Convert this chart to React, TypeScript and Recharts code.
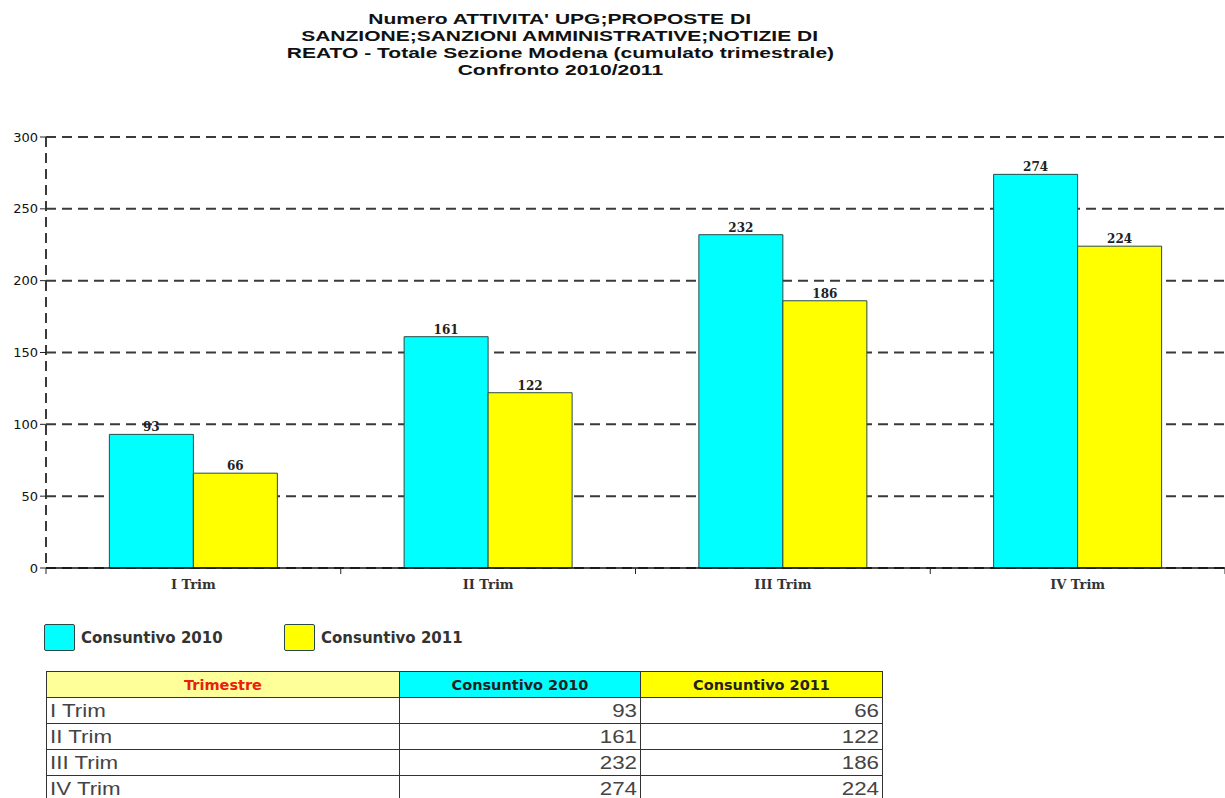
import { BarChart, Bar, XAxis, YAxis, CartesianGrid, LabelList } from 'recharts';

const TITLE_LINES = [
  "Numero ATTIVITA' UPG;PROPOSTE DI",
  'SANZIONE;SANZIONI AMMINISTRATIVE;NOTIZIE DI',
  'REATO - Totale Sezione Modena (cumulato trimestrale)',
  'Confronto 2010/2011',
];

const QUARTERS = ['I Trim', 'II Trim', 'III Trim', 'IV Trim'];
const CONS_2010 = [93, 161, 232, 274];
const CONS_2011 = [66, 122, 186, 224];
const Y_TICKS = [0, 50, 100, 150, 200, 250, 300];

const SERIES = [
  { key: 'c2010', name: 'Consuntivo 2010', color: '#00ffff' },
  { key: 'c2011', name: 'Consuntivo 2011', color: '#ffff00' },
];

const data = QUARTERS.map((q, i) => ({ q, c2010: CONS_2010[i], c2011: CONS_2011[i] }));

const GRID = '#3a3a3a';

// x tick: label at centre, little mark at the band edges
function QuarterTick(props: any) {
  const { x, y, payload, index, visibleTicksCount } = props;
  const half = payload.offset || 0;
  const top = y - 10;
  return (
    <g>
      <line x1={x - half} x2={x - half} y1={top} y2={top + 6} stroke="#222" />
      {index === visibleTicksCount - 1 && (
        <line x1={x + half} x2={x + half} y1={top} y2={top + 6} stroke="#222" />
      )}
      <text
        x={x}
        y={y + 11}
        textAnchor="middle"
        fontFamily="DejaVu Serif"
        fontWeight="bold"
        fontSize={13}
        fill="#333"
      >
        {payload.value}
      </text>
    </g>
  );
}

// the original output looks horizontally stretched
const wide = (origin: string, k = 1.24): React.CSSProperties => ({
  display: 'inline-block',
  transform: `scaleX(${k})`,
  transformOrigin: origin,
});

const cell: React.CSSProperties = {
  border: '1px solid #333',
  padding: '0 3px',
  height: 25,
  lineHeight: '24px',
  fontFamily: 'Liberation Sans, Arial, sans-serif',
  fontSize: 18,
  color: '#444',
  overflow: 'visible',
  whiteSpace: 'nowrap',
};

const head: React.CSSProperties = {
  border: '1px solid #333',
  height: 25,
  padding: 0,
  fontFamily: 'DejaVu Sans, sans-serif',
  fontWeight: 'bold',
  fontSize: 14.5,
  textAlign: 'center',
  color: '#222',
};

export default function App() {
  return (
    <div style={{ position: 'absolute', left: 0, top: 0, width: 1225, height: 798, background: '#fff', overflow: 'hidden' }}>
      <div
        style={{
          position: 'absolute',
          left: 0,
          top: 10,
          width: 1120,
          textAlign: 'center',
          fontFamily: 'Liberation Sans, Arial, sans-serif',
          fontWeight: 'bold',
          fontSize: 15,
          lineHeight: '17px',
          color: '#111',
        }}
      >
        {TITLE_LINES.map((t) => (
          <div key={t} style={{ height: 17 }}>
            <span style={wide('center', 1.4)}>{t}</span>
          </div>
        ))}
      </div>

      <div style={{ position: 'absolute', left: 0, top: 0 }}>
        <BarChart
          width={1225}
          height={600}
          data={data}
          margin={{ top: 137, right: 0, left: 0, bottom: 0 }}
          barGap={0}
          barCategoryGap="21.5%"
        >
          <CartesianGrid
            vertical={false}
            stroke={GRID}
            strokeWidth={2}
            strokeDasharray="10 6"
          />
          <XAxis
            dataKey="q"
            height={32}
            tickLine={false}
            tickSize={6}
            tickMargin={4}
            axisLine={{ stroke: '#111', strokeWidth: 1.5 }}
            tick={<QuarterTick />}
            interval={0}
          />
          <YAxis
            width={46}
            domain={[0, 300]}
            ticks={Y_TICKS}
            interval={0}
            tickSize={6}
            tickMargin={2}
            axisLine={{ stroke: GRID, strokeWidth: 2, strokeDasharray: '10 6' }}
            tickLine={{ stroke: '#222' }}
            tick={{ fill: '#111', fontSize: 13, fontFamily: 'DejaVu Sans, sans-serif' }}
          />
          {SERIES.map((s) => (
            <Bar
              key={s.key}
              dataKey={s.key}
              name={s.name}
              fill={s.color}
              stroke="#2a4a4a"
              strokeWidth={1}
              isAnimationActive={false}
            >
              <LabelList
                dataKey={s.key}
                position="top"
                offset={3}
                fill="#222"
                fontSize={12}
                fontWeight="bold"
                fontFamily="DejaVu Serif"
              />
            </Bar>
          ))}
        </BarChart>
      </div>

      {/* legend */}
      {SERIES.map((s, i) => (
        <div
          key={s.key}
          style={{ position: 'absolute', left: 44 + i * 240, top: 624, display: 'flex', alignItems: 'center' }}
        >
          <div
            style={{
              width: 29,
              height: 25,
              background: s.color,
              border: '1px solid #2a4a4a',
              borderRadius: 2,
              marginRight: 6,
            }}
          />
          <span style={{ fontFamily: 'DejaVu Sans, sans-serif', fontWeight: 'bold', fontSize: 15, color: '#333' }}>
            {s.name}
          </span>
        </div>
      ))}

      {/* data table */}
      <table
        style={{
          position: 'absolute',
          left: 46,
          top: 671,
          width: 836,
          borderCollapse: 'collapse',
          tableLayout: 'fixed',
        }}
      >
        <colgroup>
          <col style={{ width: 353 }} />
          <col style={{ width: 241 }} />
          <col style={{ width: 242 }} />
        </colgroup>
        <thead>
          <tr>
            <th style={{ ...head, background: '#ffff99', color: '#e8200c' }}>Trimestre</th>
            <th style={{ ...head, background: '#00ffff' }}>Consuntivo 2010</th>
            <th style={{ ...head, background: '#ffff00' }}>Consuntivo 2011</th>
          </tr>
        </thead>
        <tbody>
          {QUARTERS.map((q, i) => (
            <tr key={q}>
              <td style={cell}>
                <span style={wide('left')}>{q}</span>
              </td>
              <td style={{ ...cell, textAlign: 'right' }}>
                <span style={wide('right')}>{CONS_2010[i]}</span>
              </td>
              <td style={{ ...cell, textAlign: 'right' }}>
                <span style={wide('right')}>{CONS_2011[i]}</span>
              </td>
            </tr>
          ))}
        </tbody>
      </table>
    </div>
  );
}
